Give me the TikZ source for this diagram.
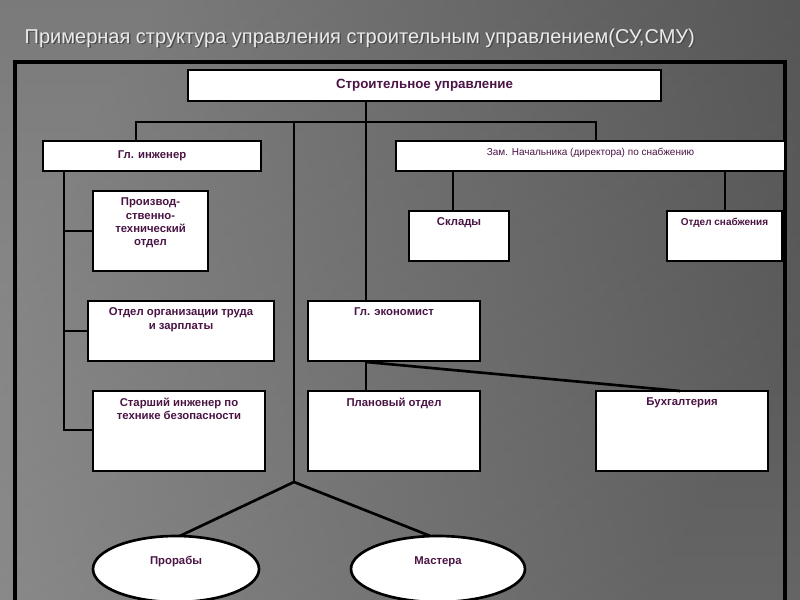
\documentclass[tikz,border=0pt]{standalone}
\usepackage{fontspec}
\setmainfont{Liberation Sans}
\usetikzlibrary{shapes.geometric}
\definecolor{txt}{HTML}{4A1445}
\begin{document}
\begin{tikzpicture}[x=0.75pt,y=-0.75pt,
  box/.style={draw=black,line width=2pt,fill=white,anchor=north west,inner sep=0pt,outer sep=0pt},
  lab/.style={text=txt,font=\fontsize{8.5}{10}\selectfont\bfseries,align=center,anchor=north,inner sep=0pt},
  ln/.style={line width=2pt}]
\useasboundingbox (0,0) rectangle (800,600);
\fill[black!62] (0,0) rectangle (800,600);
\shade[left color=black!40,right color=black!70,shading angle=60] (0,0) rectangle (800,600);
\shade[top color=black!70,bottom color=black!45,opacity=0.4] (0,0) rectangle (800,600);
\node[anchor=west,text=black!70,font=\fontsize{15}{16}\selectfont] at (21.5,39.5) {Примерная структура управления строительным управлением(СУ,СМУ)};
\node[anchor=west,text=white!92!black,font=\fontsize{15}{16}\selectfont] (title) at (20,38) {Примерная структура управления строительным управлением(СУ,СМУ)};
\draw[line width=2.4pt] (15,630) -- (15,62) -- (785,62) -- (785,630);
% nodes
\node[box,minimum width=0.75*473pt,minimum height=0.75*31pt] (su) at (188,70) {};
\node[lab,anchor=center] at (su.center) {\fontsize{10}{12}\selectfont Строительное управление};
\node[box,minimum width=0.75*218pt,minimum height=0.75*30pt] (gi) at (43,141) {};
\node[lab,anchor=center] at (gi.center) {Гл. инженер};
\node[box,minimum width=0.75*389pt,minimum height=0.75*30pt] (zam) at (396,141) {};
\node[lab,font=\fontsize{7.5}{9}\selectfont] at ([yshift=-5pt]zam.north) {Зам. Начальника (директора) по снабжению};
\node[box,minimum width=0.75*115pt,minimum height=0.75*80pt] (pto) at (93,191) {};
\node[lab] at ([yshift=-5pt]pto.north) {Производ-\\ственно-\\технический\\отдел};
\node[box,minimum width=0.75*186pt,minimum height=0.75*60pt] (otz) at (88,301) {};
\node[lab] at ([yshift=-5pt]otz.north) {Отдел организации труда\\и зарплаты};
\node[box,minimum width=0.75*172pt,minimum height=0.75*80pt] (sib) at (93,391) {};
\node[lab] at ([yshift=-5pt]sib.north) {Старший инженер по\\технике безопасности};
\node[box,minimum width=0.75*100pt,minimum height=0.75*50pt] (skl) at (409,211) {};
\node[lab] at ([yshift=-5pt]skl.north) {Склады};
\node[box,minimum width=0.75*115pt,minimum height=0.75*50pt] (osn) at (667,211) {};
\node[lab,font=\fontsize{7.5}{9}\selectfont\bfseries] at ([yshift=-5pt]osn.north) {Отдел снабжения};
\node[box,minimum width=0.75*172pt,minimum height=0.75*60pt] (ge) at (308,301) {};
\node[lab] at ([yshift=-5pt]ge.north) {Гл. экономист};
\node[box,minimum width=0.75*172pt,minimum height=0.75*80pt] (plo) at (308,391) {};
\node[lab] at ([yshift=-5pt]plo.north) {Плановый отдел};
\node[box,minimum width=0.75*172pt,minimum height=0.75*80pt] (bux) at (596,391) {};
\node[lab] at ([yshift=-5pt]bux.north) {Бухгалтерия};
\coordinate (f) at (294,482);
\coordinate (b1) at (136,122); \coordinate (b2) at (596,122);
% connectors
\draw[ln] (su.south -| 366,0) -- (ge.north -| 366,0);
\draw[ln] (gi.north -| b1) -- (b1) -- (b2) -- (zam.north -| b2);
\draw[ln] (294,122) -- (f);
\draw[ln] (f) -- (165,543);
\draw[ln] (f) -- (448,543);
\node[draw,line width=2pt,fill=white,ellipse,minimum width=0.75*166pt,minimum height=0.75*66pt,inner sep=0pt] (pr) at (176,569) {};
\node[text=txt,font=\fontsize{8.5}{10}\selectfont\rmfamily\bfseries] at (176,562) {Прорабы};
\node[draw,line width=2pt,fill=white,ellipse,minimum width=0.75*174pt,minimum height=0.75*66pt,inner sep=0pt] (ma) at (438,569) {};
\node[lab,anchor=center] at (438,562) {Мастера};
\draw[ln] (gi.south -| 64,0) -- (64,430) -- (sib.west |- 0,430);
\draw[ln] (64,231) -- (pto.west |- 0,231);
\draw[ln] (64,331) -- (otz.west |- 0,331);
\draw[ln] (zam.south -| 453,0) -- (skl.north -| 453,0);
\draw[ln] (zam.south -| 725,0) -- (osn.north -| 725,0);
\draw[ln] (ge.south -| 366,0) -- (plo.north -| 366,0);
\draw[ln] (366,362) -- (bux.north -| 680,0);
\end{tikzpicture}
\end{document}
